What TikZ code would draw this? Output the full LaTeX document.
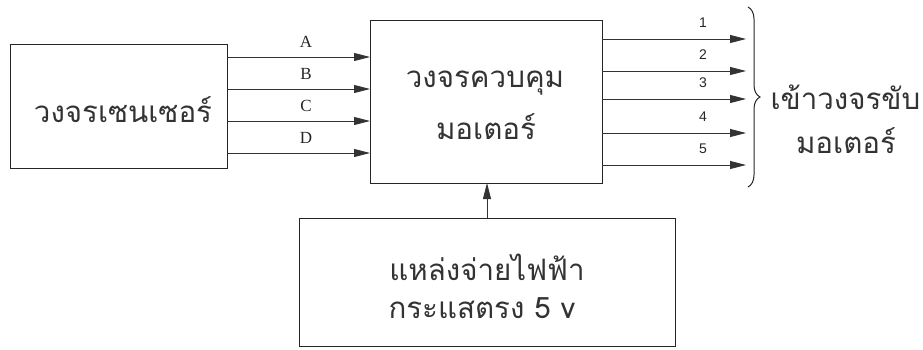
\documentclass[tikz,border=0pt]{standalone}
\usepackage{fontspec}
\setmainfont{Liberation Serif}
\newfontfamily\thaifont[Script=Thai]{Loma}
\newfontfamily\arialfont{Liberation Sans}
\usetikzlibrary{arrows.meta,decorations.pathreplacing}
\begin{document}
\begin{tikzpicture}[x=1pt,y=-1pt,
  blk/.style={draw=black!85,line width=1pt,fill=white},
  sig/.style={draw=black!80,line width=0.9pt,-{Triangle[length=16pt,width=8pt]}},
  thai/.style={font=\thaifont\fontsize{29.5}{32}\selectfont,text=black!80},
  lat/.style={font=\fontsize{17}{19}\selectfont,text=black!85},
  num/.style={font=\arialfont\fontsize{14}{16}\selectfont,text=black!85}]
\useasboundingbox (0,0) rectangle (923,350);
% boxes
\draw[blk] (10,45) rectangle (227,168);
\draw[blk] (370,21) rectangle (602,183);
\draw[blk] (299,218) rectangle (675,346);
\node[thai] (sensor) at (123,110) {วงจรเซนเซอร์};
\node[thai] (ctl1) at (485,83) {วงจรควบคุม};
\node[thai] (ctl2) at (486,127) {มอเตอร์};
\node[thai] (pw1) at (487,267) {แหล่งจ่ายไฟฟ้า};
\node[thai] (pw2) at (482,308) {กระแสตรง 5 v};
% input arrows
\foreach \y/\l [count=\i] in {57/A,89/B,121/C,153/D}{
  \coordinate (a\i) at (227,\y);
  \coordinate (b\i) at (370,\y);
  \draw[sig] (a\i) -- (b\i);
  \node[lat] (la\i) at (306,\y-15) {\l};
}
% output arrows
\foreach \y [count=\i] in {39,71,99,133,165}{
  \coordinate (c\i) at (602,\y);
  \coordinate (d\i) at (746,\y);
  \draw[sig] (c\i) -- (d\i);
  \node[num] (ln\i) at (703,\y-16) {\i};
}
% power arrow
\coordinate (p1) at (487,218);
\coordinate (p2) at (487,183);
\draw[sig] (p1) -- (p2);
% brace
\coordinate (br1) at (748,7);
\coordinate (br2) at (748,187);
\draw[black!85,line width=1pt,decorate,decoration={brace,amplitude=12pt}] (br1) -- (br2);
\node[thai,anchor=west] (out1) at (767,97) {เข้าวงจรขับ};
\node[thai] (out2) at (846,141) {มอเตอร์};
\end{tikzpicture}
\end{document}
